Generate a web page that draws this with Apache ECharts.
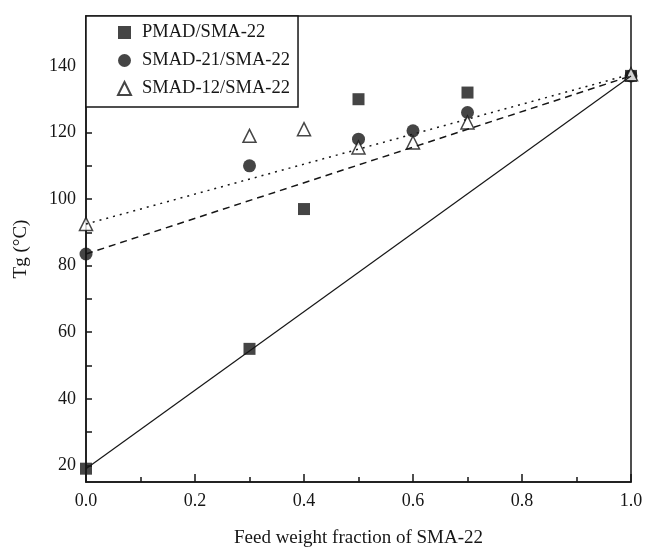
<!DOCTYPE html>
<html>
<head>
<meta charset="utf-8">
<script src="https://cdn.jsdelivr.net/npm/echarts@6/dist/echarts.min.js"></script>
<style>
  html, body { margin: 0; padding: 0; background: #fff; }
  #chart { width: 649px; height: 548px; }
</style>
</head>
<body>
<div id="chart"></div>
<script>
// values
const pmadPoints = [[0, 19], [0.3, 55], [0.4, 97], [0.5, 130], [0.7, 132], [1.0, 137]]
const smad21Points = [[0, 83.5], [0.3, 110], [0.5, 118], [0.6, 120.5], [0.7, 126], [1.0, 137]]
const smad12Points = [[0, 92.5], [0.3, 119], [0.4, 121], [0.5, 115.5], [0.6, 117], [0.7, 123], [1.0, 137.5]]

// straight fit lines (end points)
const pmadFit = [[0, 19], [1.0, 137]]
const smad21Fit = [[0, 83.5], [1.0, 137]]
const smad12Fit = [[0, 92.5], [1.0, 137.5]]

const xLabels = [0, 0.2, 0.4, 0.6, 0.8, 1.0]
const yLabels = [20, 40, 60, 80, 100, 120, 140]
const yTicks = [20, 30, 40, 50, 60, 70, 80, 90, 100, 110, 120, 130, 140, 150]

const ink = '#161616'
const font = '"Liberation Serif", "DejaVu Serif", serif'

const chart = echarts.init(document.getElementById('chart'))

chart.setOption({
  backgroundColor: '#fff',
  animation: false,
  textStyle: { fontFamily: font, color: ink },
  grid: {
    left: 86,
    right: 18,
    top: 16,
    bottom: 66,
    outerBoundsMode: 'none',
    containLabel: false,
    show: true,
    borderColor: ink,
    borderWidth: 1.5,
    backgroundColor: 'transparent'
  },
  legend: {
    data: ['PMAD/SMA-22', 'SMAD-21/SMA-22', 'SMAD-12/SMA-22'],
    orient: 'vertical',
    left: 86,
    top: 16,
    padding: [7, 8, 9, 31],
    itemGap: 9,
    itemWidth: 13,
    itemHeight: 13,
    borderColor: ink,
    borderWidth: 1.5,
    backgroundColor: '#fff',
    textStyle: { fontFamily: font, fontSize: 18.5, color: ink, padding: [0, 0, 0, 6] }
  },
  xAxis: {
    type: 'value',
    min: 0,
    max: 1,
    interval: 0.2,
    axisLine: { lineStyle: { color: ink, width: 1.5 } },
    axisTick: { inside: true, length: 8, lineStyle: { color: ink, width: 1.5 } },
    minorTick: { show: true, splitNumber: 2, length: 5, lineStyle: { color: ink, width: 1.5 } },
    splitLine: { show: false },
    axisLabel: {
      customValues: xLabels,
      fontFamily: font,
      fontSize: 18,
      color: ink,
      margin: 10,
      formatter: v => v.toFixed(1)
    },
    name: 'Feed weight fraction of SMA-22',
    nameLocation: 'middle',
    nameGap: 47,
    nameTextStyle: { fontFamily: font, fontSize: 19, color: ink }
  },
  yAxis: {
    type: 'value',
    min: 15,
    max: 155,
    axisLine: { lineStyle: { color: ink, width: 1.5 } },
    axisTick: { inside: true, length: 6, customValues: yTicks, lineStyle: { color: ink, width: 1.5 } },
    splitLine: { show: false },
    axisLabel: {
      customValues: yLabels,
      fontFamily: font,
      fontSize: 18,
      color: ink,
      margin: 10
    },
    name: 'Tg (°C)',
    nameLocation: 'middle',
    nameGap: 55,
    nameTextStyle: { fontFamily: font, fontSize: 19, color: ink }
  },
  series: [
    {
      name: 'pmad-fit',
      type: 'line',
      data: pmadFit,
      symbol: 'none',
      silent: true,
      lineStyle: { color: ink, width: 1.2 }
    },
    {
      name: 'smad21-fit',
      type: 'line',
      data: smad21Fit,
      symbol: 'none',
      silent: true,
      lineStyle: { color: ink, width: 1.5, type: [7, 5] }
    },
    {
      name: 'smad12-fit',
      type: 'line',
      data: smad12Fit,
      symbol: 'none',
      silent: true,
      lineStyle: { color: ink, width: 1.5, type: [2, 5] }
    },
    {
      name: 'PMAD/SMA-22',
      type: 'scatter',
      data: pmadPoints,
      symbol: 'rect',
      symbolSize: 12,
      itemStyle: { color: ink }
    },
    {
      name: 'SMAD-21/SMA-22',
      type: 'scatter',
      data: smad21Points,
      symbol: 'circle',
      symbolSize: 13,
      itemStyle: { color: ink }
    },
    {
      name: 'SMAD-12/SMA-22',
      type: 'scatter',
      data: smad12Points,
      symbol: 'triangle',
      symbolSize: 13,
      itemStyle: { color: '#fff', borderColor: ink, borderWidth: 1.5 }
    }
  ]
})
</script>
</body>
</html>
